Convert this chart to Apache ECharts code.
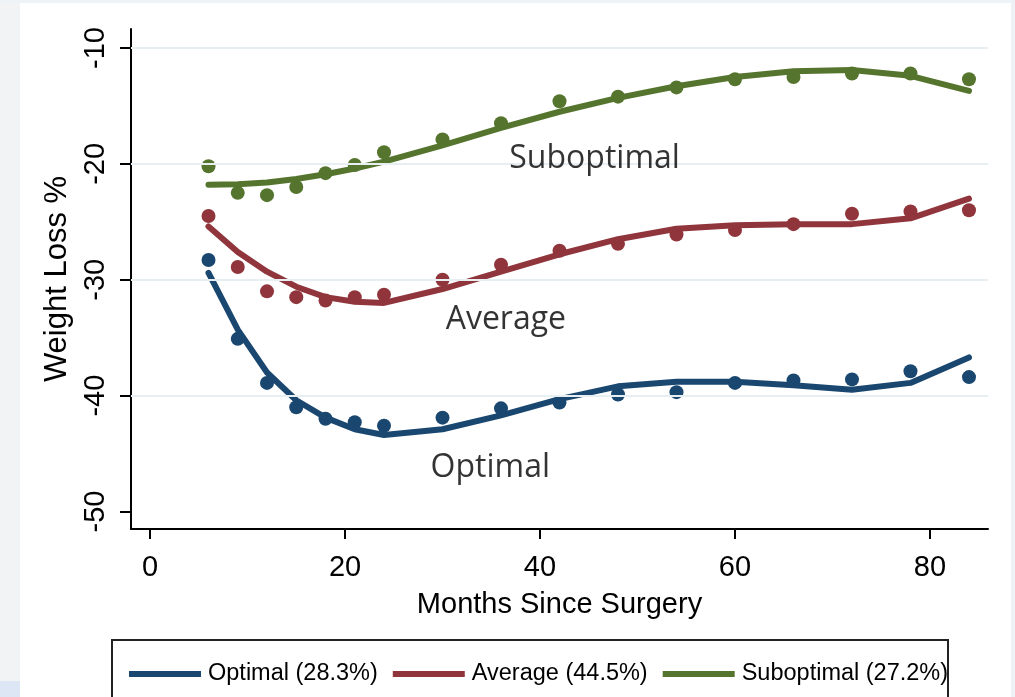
<!DOCTYPE html>
<html>
<head>
<meta charset="utf-8">
<script src="https://cdn.jsdelivr.net/npm/echarts@6/dist/echarts.min.js"></script>
<style>
html,body{margin:0;padding:0;background:#fff;}
#chart{width:1015px;height:697px;}
</style>
</head>
<body>
<div id="chart"></div>
<script>
const months = [6, 9, 12, 15, 18, 21, 24, 30, 36, 42, 48, 54, 60, 66, 72, 78, 84];
const optimalObs = [-28.3, -35.1, -38.9, -41.0, -42.0, -42.3, -42.6, -41.9, -41.1, -40.6, -39.9, -39.7, -38.9, -38.7, -38.6, -37.9, -38.4];
const optimalFit = [-29.4, -34.3, -38.0, -40.4, -41.9, -42.9, -43.4, -42.9, -41.7, -40.3, -39.2, -38.8, -38.8, -39.1, -39.5, -38.9, -36.7];
const averageObs = [-24.5, -28.9, -31.0, -31.5, -31.8, -31.5, -31.3, -30.0, -28.7, -27.5, -26.9, -26.1, -25.7, -25.2, -24.3, -24.1, -24.0];
const averageFit = [-25.4, -27.6, -29.3, -30.6, -31.5, -31.9, -32.0, -30.8, -29.3, -27.8, -26.5, -25.6, -25.3, -25.2, -25.2, -24.7, -23.0];
const suboptimalObs = [-20.2, -22.5, -22.7, -22.0, -20.8, -20.1, -19.0, -17.9, -16.5, -14.6, -14.2, -13.4, -12.7, -12.5, -12.2, -12.2, -12.7];
const suboptimalFit = [-21.8, -21.75, -21.6, -21.3, -20.9, -20.4, -19.8, -18.4, -16.9, -15.5, -14.3, -13.3, -12.5, -12.0, -11.9, -12.4, -13.7];
const seriesNames = ['Optimal (28.3%)', 'Average (44.5%)', 'Suboptimal (27.2%)'];
const groupLabels = ['Optimal', 'Average', 'Suboptimal'];
const labelPos = [[34.9, -46.2], [36.5, -33.5], [45.6, -19.6]];
const xTicks = [0, 20, 40, 60, 80];
const yTicks = [-50, -40, -30, -20, -10];
const yGrid = [-40, -30, -20, -10];

const colors = ['#1a476f', '#90353b', '#55752f'];
const fits = [optimalFit, averageFit, suboptimalFit];
const obs = [optimalObs, averageObs, suboptimalObs];
const pair = (arr) => months.map((m, i) => [m, arr[i]]);

const series = [];
series.push({
  type: 'line', data: [], silent: true, z: 1,
  markLine: {
    silent: true, symbol: 'none', label: {show: false},
    lineStyle: {color: '#e8eff3', width: 2, type: 'solid'},
    data: yGrid.map(v => ({yAxis: v}))
  }
});
for (let k = 0; k < 3; k++) {
  series.push({
    name: seriesNames[k] + ' obs', type: 'scatter', data: pair(obs[k]),
    symbol: 'circle', symbolSize: 14, itemStyle: {color: colors[k], opacity: 1}, z: 3
  });
  series.push({
    name: seriesNames[k], type: 'line', data: pair(fits[k]), showSymbol: false,
    symbol: 'none', lineStyle: {color: colors[k], width: 6, cap: 'round', join: 'round'},
    itemStyle: {color: colors[k]}, z: 4
  });
}
series.push({
  type: 'scatter', symbolSize: 0, silent: true, z: 5,
  data: labelPos.map((p, i) => [p[0], p[1], groupLabels[i]]),
  label: {
    show: true, position: 'inside', formatter: (p) => p.value[2],
    fontFamily: 'Open Sans', fontSize: 32, color: '#000'
  }
});

const chart = echarts.init(document.getElementById('chart'), null, {renderer: 'canvas'});
chart.setOption({
  animation: false,
  backgroundColor: '#ffffff',
  graphic: [
    {type: 'rect', shape: {x: 0, y: 0, width: 20, height: 697}, style: {fill: '#f2f3f5'}, z: -10},
    {type: 'rect', shape: {x: 0, y: 681, width: 20, height: 16}, style: {fill: '#dce6f4'}, z: -9},
    {type: 'rect', shape: {x: 0, y: 0, width: 1015, height: 3}, style: {fill: '#eef3f8'}, z: -9},
    {type: 'rect', shape: {x: 1011, y: 0, width: 4, height: 697}, style: {fill: '#eef2f7'}, z: -9},
    {type: 'rect', shape: {x: 112, y: 640, width: 836, height: 80}, style: {fill: 'none', stroke: '#222', lineWidth: 2}, z: 100}
  ],
  grid: {left: 131, right: 27, top: 29, bottom: 168, containLabel: false},
  legend: {
    data: seriesNames.map((n, i) => ({name: n, icon: 'rect', itemStyle: {color: colors[i]}})),
    left: 124, top: 657, itemWidth: 72, itemHeight: 6, itemGap: 15,
    textStyle: {fontFamily: 'Liberation Sans, Arial', fontSize: 23.5, color: '#000', padding: [0, 0, 0, 2]},
    selectedMode: false
  },
  xAxis: {
    type: 'value', min: -1.95, max: 85.95,
    name: 'Months Since Surgery', nameLocation: 'middle', nameGap: 61,
    nameTextStyle: {fontFamily: 'Liberation Sans, Arial', fontSize: 29, color: '#000'},
    axisLine: {show: true, onZero: false, lineStyle: {color: '#000', width: 2}},
    axisTick: {show: true, customValues: xTicks, length: 10, lineStyle: {color: '#000', width: 2}},
    axisLabel: {customValues: xTicks, margin: 24, fontFamily: 'Liberation Sans, Arial', fontSize: 29, color: '#000'},
    splitLine: {show: false}
  },
  yAxis: {
    type: 'value', min: -51.51, max: -8.36,
    name: 'Weight Loss %', nameLocation: 'middle', nameGap: 52, nameRotate: 90,
    nameTextStyle: {fontFamily: 'Liberation Sans, Arial', fontSize: 31, color: '#000'},
    axisLine: {show: true, onZero: false, lineStyle: {color: '#000', width: 2}},
    axisTick: {show: true, customValues: yTicks, length: 11, lineStyle: {color: '#000', width: 2}},
    axisLabel: {customValues: yTicks, rotate: 90, margin: 21, fontFamily: 'Liberation Sans, Arial', fontSize: 29, color: '#000'},
    splitLine: {show: false}
  },
  series: series
});
</script>
</body>
</html>
